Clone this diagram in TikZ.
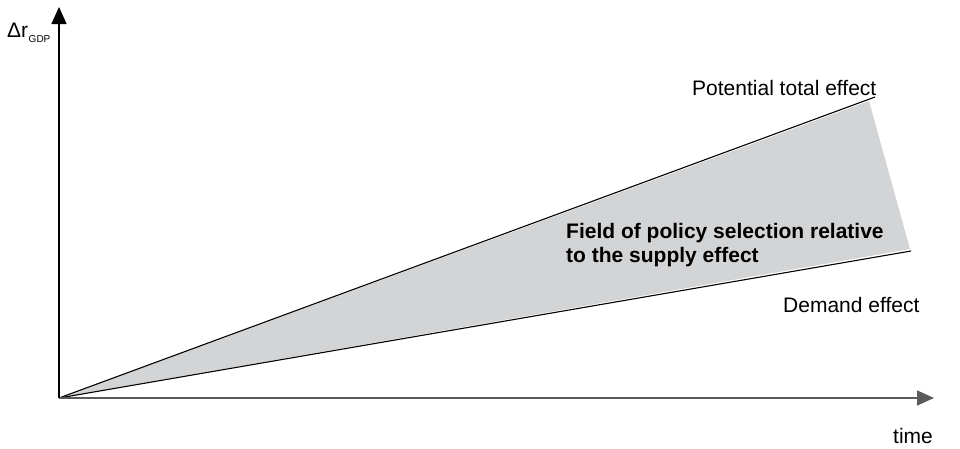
\documentclass[tikz,border=0pt]{standalone}
\usepackage{fontspec}
\setmainfont{Liberation Sans}
\usetikzlibrary{arrows.meta}
\definecolor{fieldgray}{HTML}{D3D4D6}
\definecolor{axisgray}{HTML}{5A5A5A}
\tikzset{
  lbl/.style={inner sep=0pt, anchor=base west, font=\fontsize{21}{24}\selectfont},
  boldlbl/.style={lbl, font=\fontsize{21}{24}\selectfont\bfseries, align=left},
  axisarrow/.style={line width=1.4pt, -{Triangle[length=17pt,width=15pt]}},
  effline/.style={line width=1.1pt, black}
}
\begin{document}
\begin{tikzpicture}[x=1pt,y=-1pt]
\useasboundingbox (0,0) rectangle (960,448);
\coordinate (O) at (59,398);
\coordinate (ytip) at (59,7);
\coordinate (xtip) at (934,398);
\coordinate (up) at (875,97);
\coordinate (lo) at (911,251);
% field
\fill[fieldgray] (63,397) -- (869,101) -- (910,249) -- cycle;
% lines
\draw[effline] (O) -- (up);
\draw[effline] (O) -- (lo);
% axes
\draw[axisarrow, axisgray] (O) -- (xtip);
\draw[axisarrow, black] (O) -- (ytip);
% labels
\node[lbl] (ylab) at (7,37) {Δr\kern0.5pt\raisebox{-5pt}{\fontsize{10}{12}\selectfont GDP}};
\node[lbl] (xlab) at (893,443) {time};
\node[lbl] (pot) at (692,95) {Potential total effect};
\node[lbl] (dem) at (783,312) {Demand effect};
\node[boldlbl, anchor=north west] (field) at (566,223) {Field of policy selection relative\\to the supply effect};
\end{tikzpicture}
\end{document}
